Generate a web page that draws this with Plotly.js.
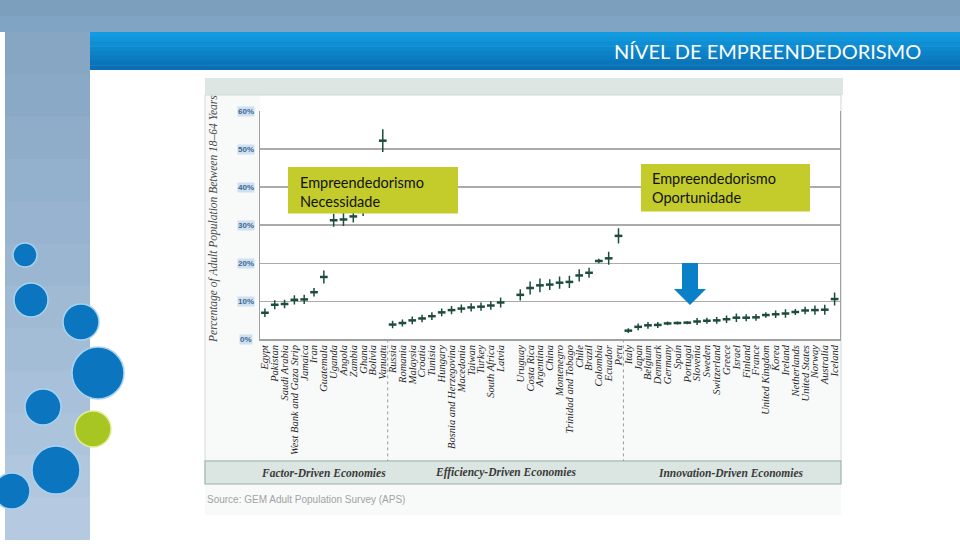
<!DOCTYPE html>
<html><head><meta charset="utf-8">
<script src="https://cdn.plot.ly/plotly-3.0.1.min.js"></script>
<style>html,body{margin:0;padding:0;background:#fff;overflow:hidden}#chart{width:960px;height:544px}</style>
</head><body><div id="chart"></div>
<script>
// ---- data ----
const factorCountries = ['Egypt','Pakistan','Saudi Arabia','West Bank and Gaza Strip','Jamaica','Iran','Guatemala','Uganda','Angola','Zambia','Ghana','Bolivia','Vanuatu'];
const factorValues    = [7.0, 9.1, 9.3, 10.4, 10.5, 12.4, 16.4, 31.3, 31.5, 32.3, 33.9, 38.6, 52.2];
const factorErrors    = [1.1, 1.2, 1.1, 1.2, 1.2, 1.1, 1.7, 1.7, 1.7, 1.6, 1.5, 2.0, 3.0];

const efficiencyCountries = ['Russia','Romania','Malaysia','Croatia','Tunisia','Hungary','Bosnia and Herzegovina','Macedonia','Taiwan','Turkey','South Africa','Latvia',' ','Uruguay','Costa Rica','Argentina','China','Montenegro','Trinidad and Tobago','Chile','Brazil','Colombia','Ecuador','Peru'];
const efficiencyValues    = [3.9, 4.3, 5.0, 5.5, 6.1, 7.1, 7.7, 8.1, 8.4, 8.6, 8.9, 9.7, null, 11.7, 13.5, 14.2, 14.4, 14.9, 15.1, 16.8, 17.5, 20.6, 21.3, 27.2];
const efficiencyErrors    = [1.0, 0.9, 1.0, 1.0, 1.0, 1.0, 1.1, 1.1, 1.1, 1.1, 1.1, 1.3, null, 1.5, 1.7, 1.8, 1.4, 1.6, 1.6, 1.6, 1.3, 0.6, 1.7, 2.0];

const innovationCountries = ['Italy','Japan','Belgium','Denmark','Germany','Spain','Portugal','Slovenia','Sweden','Switzerland','Greece','Israel','Finland','France','United Kingdom','Korea','Ireland','Netherlands','United States','Norway','Australia','Iceland'];
const innovationValues    = [2.3, 3.3, 3.7, 3.8, 4.2, 4.3, 4.4, 4.7, 4.9, 5.0, 5.3, 5.7, 5.7, 5.8, 6.4, 6.6, 6.8, 7.2, 7.6, 7.7, 7.8, 10.6];
const innovationErrors    = [0.6, 0.9, 0.9, 0.8, 0.5, 0.4, 0.4, 0.9, 0.8, 0.9, 1.0, 1.1, 0.9, 0.9, 0.7, 1.0, 1.1, 0.8, 1.0, 1.2, 1.3, 1.7];

const groupLabels = ['Factor-Driven Economies','Efficiency-Driven Economies','Innovation-Driven Economies'];
const yTickValues = [0, 10, 20, 30, 40, 50, 60];
const yTickLabels = ['0%','10%','20%','30%','40%','50%','60%'];
const yAxisTitle = 'Percentage of Adult Population Between 18\u201364 Years';
const slideTitle = 'NÍVEL DE EMPREENDEDORISMO';
const boxNecessity = 'Empreendedorismo<br>Necessidade';
const boxOpportunity = 'Empreendedorismo<br>Oportunidade';
const sourceText = 'Source: GEM Adult Population Survey (APS)';

// ---- assemble ----
const categories = factorCountries.concat(efficiencyCountries, innovationCountries);
const values = factorValues.concat(efficiencyValues, innovationValues);
const errors = factorErrors.concat(efficiencyErrors, innovationErrors);
const nF = factorCountries.length, nE = efficiencyCountries.length, nI = innovationCountries.length;

const W = 960, H = 544;
const px = x => x / W;
const py = y => 1 - y / H;

function hex(c){return [parseInt(c.slice(1,3),16),parseInt(c.slice(3,5),16),parseInt(c.slice(5,7),16)];}
function mix(a,b,t){const A=hex(a),B=hex(b);return 'rgb('+A.map((v,i)=>Math.round(v+(B[i]-v)*t)).join(',')+')';}
function bands(x0,x1,y0,y1,c0,c1,n){
  const out=[];const h=(y1-y0)/n;
  for(let i=0;i<n;i++){
    out.push({type:'rect',xref:'paper',yref:'paper',layer:'below',
      x0:px(x0),x1:px(x1),y0:py(y0+i*h),y1:py(Math.min(y1,y0+(i+1)*h+0.6)),
      fillcolor:mix(c0,c1,i/(n-1||1)),line:{width:0}});
  }
  return out;
}
function rectPx(x0,y0,x1,y1,fill,lineColor,lw,layer){
  return {type:'rect',xref:'paper',yref:'paper',layer:layer||'below',
    x0:px(x0),x1:px(x1),y0:py(y1),y1:py(y0),fillcolor:fill,
    line:{color:lineColor||'rgba(0,0,0,0)',width:lw||0}};
}
function circlePx(cx,cy,r,fill,border){
  return {type:'circle',xref:'paper',yref:'paper',layer:'below',
    x0:px(cx-r),x1:px(cx+r),y0:py(cy+r),y1:py(cy-r),fillcolor:fill,
    line:{color:border,width:1.5}};
}

const shapes = [];
// slide background
shapes.push(...bands(0,960,0,32,'#7c9fbe','#80a4c3',2));
shapes.push(...bands(5,90,32,540,'#86a6c4','#b5cae1',12));
shapes.push(...bands(90,960,32,70,'#119be0','#0a6fb4',8));
// circles
const blue='#0b76bf', blueB='#a6d3f1', green='#a8c622', greenB='#e2ee9c';
shapes.push(circlePx(25,255,12,blue,blueB));
shapes.push(circlePx(31,300,17,blue,blueB));
shapes.push(circlePx(81,322,18,blue,blueB));
shapes.push(circlePx(98,373,26,blue,blueB));
shapes.push(circlePx(43,407,18,blue,blueB));
shapes.push(circlePx(93,429,18,green,greenB));
shapes.push(circlePx(56,470,24,blue,blueB));
shapes.push(circlePx(12,491,18,blue,blueB));
// chart picture area
shapes.push(rectPx(205,78,841,515,'#f8f9f9'));
shapes.push(rectPx(205,78,843,95,'#dde6e2'));
shapes.push(rectPx(260,95,840,339.4,'#ffffff'));
shapes.push(rectPx(205,95,841,461,'rgba(0,0,0,0)','#d4dad7',1));
shapes.push(rectPx(205,461,841,484,'#dbe5e1','#9db3aa',1.2));
// group dividers (category positions)
[nF-0.5, nF+nE-0.5].forEach(xv=>{
  shapes.push({type:'line',xref:'x',yref:'paper',x0:xv,x1:xv,y0:py(339.4),y1:py(461),
    line:{color:'#9a9a9a',width:1,dash:'dot'},layer:'below'});
});
// callout boxes (above data)
shapes.push(rectPx(288,167,458,213.5,'#c3cc2b',null,0,'above'));
shapes.push(rectPx(641,164,810,211.5,'#c3cc2b',null,0,'above'));
// arrow
const ap=[[682,263],[698,263],[698,289],[706,289],[690,305],[674,289],[682,289]];
shapes.push({type:'path',xref:'paper',yref:'paper',layer:'above',
  path:'M'+ap.map(p=>px(p[0]).toFixed(5)+','+py(p[1]).toFixed(5)).join(' L')+' Z',
  fillcolor:'#0a80c8',line:{width:0}});

const annotations = [];
annotations.push({xref:'paper',yref:'paper',x:px(923),y:py(51),xanchor:'right',yanchor:'middle',
  text:slideTitle,showarrow:false,font:{family:'Lato',size:20,color:'#ffffff'}});
annotations.push({xref:'paper',yref:'paper',x:px(213),y:py(219),xanchor:'center',yanchor:'middle',
  text:yAxisTitle,textangle:-90,showarrow:false,
  font:{family:'Liberation Serif',size:11.5,style:'italic',color:'#4a4a4a'}});
yTickValues.forEach((v,i)=>{
  annotations.push({xref:'paper',yref:'y',x:px(246),y:v,xanchor:'center',yanchor:'middle',
    text:yTickLabels[i],showarrow:false,bgcolor:'#cfe0f0',borderpad:0,
    font:{family:'Liberation Sans',size:8,weight:'bold',color:'#3d6a94'}});
});
const groupCenters=[(nF-1)/2, nF+(nE-1)/2, nF+nE+(nI-1)/2];
groupLabels.forEach((g,i)=>{
  annotations.push({xref:'x',yref:'paper',x:groupCenters[i],y:py(472.5),xanchor:'center',yanchor:'middle',
    text:g,showarrow:false,font:{family:'Liberation Serif',size:11.5,style:'italic',weight:'bold',color:'#3a3a3a'}});
});
annotations.push({xref:'paper',yref:'paper',x:px(205),y:py(499),xanchor:'left',yanchor:'middle',
  text:sourceText,showarrow:false,font:{family:'Liberation Sans',size:10,color:'#a3a3a3'}});
annotations.push({xref:'paper',yref:'paper',x:px(298),y:py(192),xanchor:'left',yanchor:'middle',align:'left',
  text:boxNecessity,showarrow:false,font:{family:'Lato',size:14.5,color:'#111111'}});
annotations.push({xref:'paper',yref:'paper',x:px(650),y:py(188.5),xanchor:'left',yanchor:'middle',align:'left',
  text:boxOpportunity,showarrow:false,font:{family:'Lato',size:14.5,color:'#111111'}});

const trace = {
  type:'scatter', mode:'markers', x:categories, y:values,
  marker:{symbol:'line-ew',size:5.5,color:'#1d4c3b',line:{color:'#1d4c3b',width:2.5}},
  error_y:{type:'data',array:errors,visible:true,thickness:1.5,width:0,color:'#1d4c3b'},
  hoverinfo:'x+y', cliponaxis:false
};

const layout = {
  width:W, height:H, margin:{l:0,r:0,t:0,b:0},
  paper_bgcolor:'#ffffff', plot_bgcolor:'rgba(0,0,0,0)',
  showlegend:false,
  xaxis:{domain:[px(260),px(839.5)], type:'category', categoryorder:'array', categoryarray:categories,
    range:[-0.5, categories.length-0.5], tickmode:'array', tickvals:categories, ticktext:categories,
    tickangle:-90, ticks:'', showgrid:false, zeroline:false,
    showline:true, linecolor:'#a0a0a0', linewidth:1.5, mirror:false,
    tickfont:{family:'Liberation Serif',size:10.5,style:'italic',color:'#262626'}, automargin:false, fixedrange:true},
  yaxis:{domain:[py(339.4),py(111)], range:[0,60], tickvals:yTickValues, showticklabels:false, ticks:'',
    showgrid:true, gridcolor:'#ababab', gridwidth:1.5, zeroline:false,
    showline:true, linecolor:'#a0a0a0', linewidth:1.5, mirror:true, automargin:false, fixedrange:true},
  shapes:shapes, annotations:annotations
};

Plotly.newPlot('chart',[trace],layout,{displayModeBar:false,staticPlot:true});
</script>
</body></html>
